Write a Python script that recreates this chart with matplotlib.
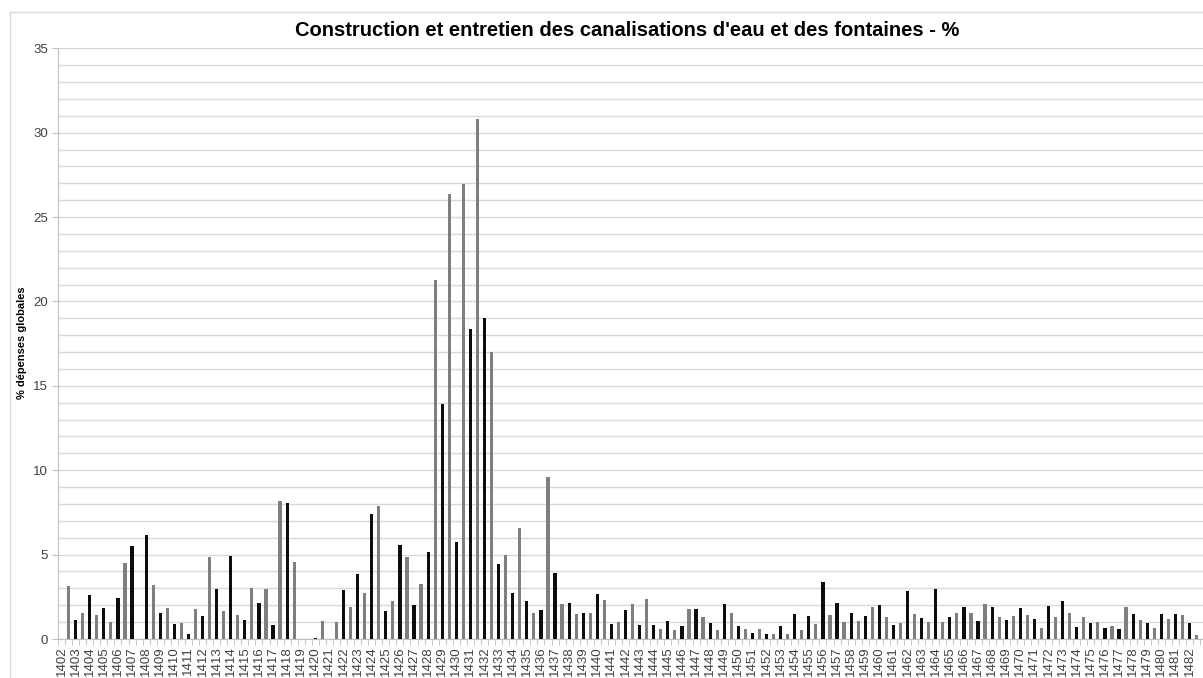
import numpy as np
import matplotlib
matplotlib.use('Agg')
import matplotlib.pyplot as plt
from matplotlib.patches import Rectangle

# ==========================================
# DONNEES (deux comptes par an : noir puis gris)
# ==========================================
years = list(range(1402, 1483))
label_years = list(range(1402, 1484))

black = [0, 1.15, 2.59, 1.84, 2.45, 5.53, 6.15, 1.52, 0.91, 0.28,
         1.34, 2.96, 4.90, 1.15, 2.11, 0.85, 8.04, 0, 0.06, 0,
         2.89, 3.83, 7.43, 1.66, 5.59, 2.00, 5.14, 13.92, 5.73, 18.35,
         19.0, 4.43, 2.73, 2.25, 1.70, 3.89, 2.11, 1.52, 2.65, 0.89,
         1.72, 0.81, 0.85, 1.09, 0.77, 1.76, 0.93, 2.06, 0.79, 0.38,
         0.28, 0.75, 1.48, 1.36, 3.40, 2.11, 1.52, 1.38, 2.00, 0.85,
         2.83, 1.26, 2.98, 1.28, 1.90, 1.09, 1.90, 1.15, 1.84, 1.19,
         1.94, 2.23, 0.71, 0.93, 0.63, 0.61, 1.48, 0.93, 1.48, 1.48,
         0.93]

grey = [3.14, 1.54, 1.40, 0.99, 4.49, 0, 3.18, 1.86, 0.95, 1.78,
        4.88, 1.64, 1.42, 3.00, 2.96, 8.18, 4.57, 0, 1.05, 1.03,
        1.90, 2.71, 7.89, 2.23, 4.84, 3.26, 21.27, 26.34, 26.97, 30.8,
        17.0, 4.98, 6.58, 1.54, 9.60, 2.08, 1.48, 1.52, 2.29, 0.99,
        2.06, 2.39, 0.59, 0.55, 1.80, 1.28, 0.53, 1.52, 0.59, 0.57,
        0.30, 0.32, 0.53, 0.89, 1.40, 1.03, 1.07, 1.88, 1.28, 0.97,
        1.48, 1.03, 1.03, 1.52, 1.56, 2.09, 1.32, 1.38, 1.40, 0.67,
        1.30, 1.54, 1.32, 0.99, 0.79, 1.92, 1.13, 0.65, 1.21, 1.42,
        0.24]

title = "Construction et entretien des canalisations d'eau et des fontaines - %"
ylabel = "% dépenses globales"

# ==========================================
# FIGURE
# ==========================================
W, H = 1203, 678
fig = plt.figure(figsize=(W / 100, H / 100), dpi=100)
plt.rcParams['font.family'] = ['Liberation Sans', 'DejaVu Sans']

slot_px = 7.05
x0_px, y0_px, ytop_px = 58, 639, 48.3
ax = fig.add_axes([x0_px / W, (H - y0_px) / H, (W - x0_px) / W,
                   (y0_px - ytop_px) / H])

idx = np.arange(len(years))
ax.bar(2 * idx, black, width=0.45, color='#0d0d0d', zorder=3)
ax.bar(2 * idx + 1, grey, width=0.45, color='#7f7f7f', zorder=3)

# axe Y
ax.set_yticks(range(0, 36, 5))
ax.set_yticks(range(0, 36), minor=True)
ax.yaxis.grid(True, which='both', color='#d9d9d9', linewidth=1, zorder=0)
ax.tick_params(axis='y', which='major', length=4, color='#bfbfbf',
               labelsize=9.5, labelcolor='#404040', pad=3)
ax.tick_params(axis='y', which='minor', length=0)

# axe X : une etiquette par annee, un trait par demi-annee
lab_pos = 2 * np.arange(len(label_years))
ax.set_xticks(lab_pos)
ax.set_xticklabels([str(y) for y in label_years], rotation=90)
ax.set_xticks(np.arange(-0.5, 2 * len(label_years) + 1, 1), minor=True)
ax.tick_params(axis='x', which='major', length=0, labelsize=9.5,
               labelcolor='#404040', pad=5)
ax.tick_params(axis='x', which='minor', length=4, color='#bfbfbf')

# limites apres les ticks (set_xticks elargit la vue)
ax.set_xlim(-0.5, -0.5 + (W - x0_px) / slot_px)
ax.set_ylim(0, 35)

for s in ['top', 'right']:
    ax.spines[s].set_visible(False)
for s in ['left', 'bottom']:
    ax.spines[s].set_color('#bfbfbf')
ax.set_axisbelow(True)

# cadre du graphique (coupe a droite et en bas)
fig.patches.append(Rectangle((10 / W, -0.2), 2, (H - 12) / H + 0.2,
                             transform=fig.transFigure, fill=False,
                             edgecolor='#d9d9d9', linewidth=1))

fig.text(627 / W, 1 - 30 / H, title, ha='center', va='center',
         fontsize=14.5, fontweight='bold', color='black')
fig.text(22 / W, 1 - 343 / H, ylabel, rotation=90, ha='center',
         va='center', fontsize=8, fontweight='bold', color='black')

fig.savefig('out.png', dpi=100)
